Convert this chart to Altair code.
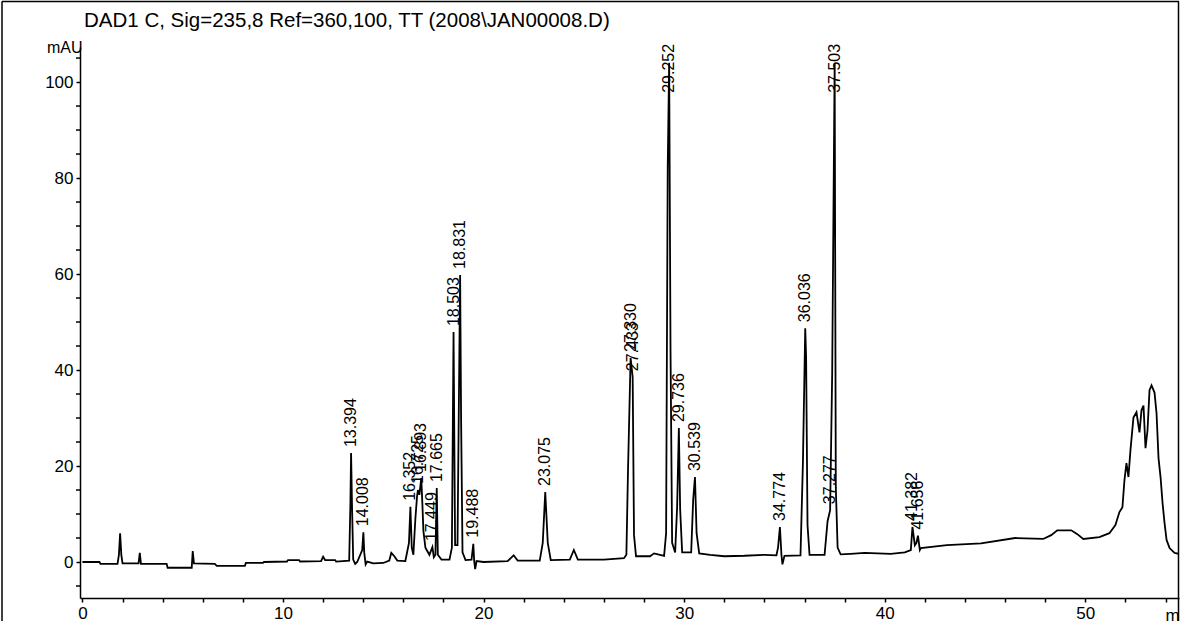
import altair as alt
import pandas as pd
import numpy as np

# ---- chromatogram trace (time in min, signal in mAU) ----
times = [0.0, 0.85, 0.9, 1.75, 1.82, 1.88, 1.94, 2.0, 2.8, 2.86, 2.92, 4.2, 4.25, 5.45, 5.5, 5.56,
         6.6, 6.7, 8.1, 8.15, 9.0, 9.05, 10.2, 10.25, 10.8, 10.85, 11.9, 12.0, 12.1, 12.6, 12.65,
         13.3, 13.36, 13.394, 13.44, 13.5, 13.6, 13.7, 13.95, 14.008, 14.05, 14.12, 14.2, 14.5,
         15.0, 15.3, 15.4, 15.55, 15.7, 16.1, 16.28, 16.352, 16.42, 16.5, 16.6, 16.68, 16.725,
         16.8, 16.893, 16.95, 17.0, 17.1, 17.3, 17.449, 17.52, 17.6, 17.665, 17.72, 17.9, 18.3,
         18.42, 18.503, 18.58, 18.7, 18.831, 18.88, 18.95, 19.1, 19.4, 19.488, 19.53, 19.58, 19.65,
         20.0, 21.2, 21.5, 21.7, 22.8, 22.95, 23.075, 23.2, 23.35, 24.3, 24.5, 24.7, 26.0, 27.0,
         27.12, 27.2, 27.33, 27.433, 27.5, 27.6, 28.3, 28.5, 29.0, 29.1, 29.18, 29.252, 29.32,
         29.4, 29.55, 29.65, 29.736, 29.8, 29.9, 30.35, 30.45, 30.539, 30.62, 30.75, 31.3, 32.0,
         33.0, 34.0, 34.6, 34.68, 34.774, 34.85, 34.9, 35.0, 35.8, 35.92, 36.036, 36.08, 36.15,
         36.25, 37.0, 37.15, 37.277, 37.38, 37.503, 37.56, 37.65, 37.8, 38.3, 39.0, 40.3, 41.0,
         41.3, 41.382, 41.5, 41.58, 41.656, 41.75, 41.8, 43.1, 44.8, 46.5, 47.9, 48.3, 48.6, 49.3,
         49.6, 49.9, 50.7, 51.2, 51.5, 51.7, 51.85, 51.95, 52.05, 52.15, 52.25, 52.4, 52.55, 52.7,
         52.8, 52.9, 53.0, 53.1, 53.2, 53.3, 53.45, 53.55, 53.65, 53.75, 53.85, 53.95, 54.05,
         54.2, 54.45, 54.67]
signal = [0.0, 0.0, -0.4, -0.4, 1.5, 6.0, 1.5, -0.3, -0.3, 1.9, -0.4, -0.4, -1.2, -1.2, 2.3, -0.3,
          -0.4, -0.8, -0.8, -0.2, -0.2, 0.0, 0.1, 0.4, 0.4, 0.1, 0.2, 1.1, 0.4, 0.4, 0.1,
          0.3, 12.0, 22.7, 12.0, 0.5, -0.4, 0.0, 2.5, 6.2, 2.0, -0.5, 0.1, -0.3,
          -0.2, 0.3, 1.9, 1.2, 0.3, 0.2, 4.0, 11.5, 3.0, 1.5, 9.0, 13.5, 15.0,
          14.0, 17.5, 12.0, 6.5, 3.0, 1.5, 3.1, 1.0, 1.5, 15.4, 1.5, 0.5, 0.5,
          3.0, 47.9, 3.5, 3.5, 59.8, 29.5, 2.0, 0.4, 0.5, 3.8, 0.3, -1.5, 0.2,
          0.0, 0.2, 1.4, 0.3, 0.3, 4.0, 14.6, 4.0, 0.4, 0.5, 2.5, 0.5, 0.5, 0.8,
          1.5, 19.0, 42.5, 38.5, 5.6, 1.2, 1.2, 1.8, 1.3, 6.0, 82.0, 104.0, 44.0,
          4.0, 2.0, 11.5, 27.9, 11.0, 2.0, 2.0, 13.0, 17.7, 6.0, 1.8, 1.5, 1.2,
          1.3, 1.5, 1.4, 3.0, 7.3, 1.5, -0.5, 1.3, 1.4, 20.6, 48.7, 42.7, 7.7,
          1.5, 1.5, 8.5, 10.8, 39.4, 104.0, 15.6, 3.0, 1.6, 1.7, 1.9, 1.7, 2.0,
          2.5, 7.3, 3.5, 4.0, 5.5, 2.5, 2.9, 3.5, 3.9, 5.0, 4.8, 5.6, 6.6, 6.6,
          5.8, 4.8, 5.2, 6.0, 7.7, 10.4, 11.4, 17.0, 20.6, 17.7, 23.3, 30.1, 31.2, 27.0,
          31.6, 32.6, 23.7, 27.4, 35.8, 36.8, 35.3, 31.0, 21.6, 17.7, 12.3, 8.1, 4.6,
          2.9, 1.9, 1.7]

# ---- peak annotations ----
peak_labels = ["13.394", "14.008", "16.352", "16.725", "16.893", "17.449", "17.665", "18.503",
               "18.831", "19.488", "23.075", "27.330", "27.433", "29.252", "29.736", "30.539",
               "34.774", "36.036", "37.277", "37.503", "41.382", "41.656"]
peak_heights = [22.7, 6.2, 11.5, 15.0, 17.5, 3.1, 15.4, 47.9, 59.8, 3.8, 14.6, 42.5, 38.5,
                104.0, 27.9, 17.7, 7.3, 48.7, 10.8, 104.0, 7.3, 5.5]

# ---- axis ticks ----
y_major = [0, 20, 40, 60, 80, 100]
y_minor = [-5, 5, 10, 15, 25, 30, 35, 45, 50, 55, 65, 70, 75, 85, 90, 95, 105]
x_ticks = list(range(0, 55, 2))

title_text = "DAD1 C, Sig=235,8 Ref=360,100, TT (2008\\JAN00008.D)"

trace = pd.DataFrame({"t": times, "v": signal})
peaks = pd.DataFrame({"label": peak_labels, "t": [float(s) for s in peak_labels], "v": peak_heights})
peaks["v"] = peaks["v"].clip(upper=96.5)
minor = pd.DataFrame({"v": y_minor})

FONT = "Liberation Sans"
W, H = 1099, 551

xscale = alt.Scale(domain=[-0.12, 54.67], nice=False, zero=False)
yscale = alt.Scale(domain=[-7.5, 107.3], nice=False, zero=False)

xaxis = alt.Axis(
    values=x_ticks,
    labelExpr="datum.value % 10 == 0 ? datum.label : ''",
    title="min", titleX=1085, titleY=22, titleAlign="left", titleBaseline="alphabetic",
    titleFont=FONT, titleFontSize=17, titleFontWeight="normal", titleColor="black",
    labelFont=FONT, labelFontSize=17, labelColor="black", labelPadding=3,
    tickSize=4, tickColor="black", tickWidth=1.5, labelOverlap=False,
    domainColor="black", domainWidth=1.5, grid=False, labelFlush=False,
)
yaxis = alt.Axis(
    values=y_major,
    title="mAU", titleAngle=0, titleX=2, titleY=0, titleAlign="right", titleBaseline="middle",
    titleFont=FONT, titleFontSize=16, titleFontWeight="normal", titleColor="black",
    labelFont=FONT, labelFontSize=17, labelColor="black", labelPadding=3,
    tickSize=4, tickColor="black", tickWidth=1.5, labelOverlap=False,
    domainColor="black", domainWidth=1.5, grid=False, labelFlush=False,
)

X = alt.X("t:Q", scale=xscale, axis=xaxis)
Y = alt.Y("v:Q", scale=yscale, axis=yaxis)

line = alt.Chart(trace).mark_line(color="black", strokeWidth=1.8, interpolate="linear").encode(
    x=X, y=Y,
)

labels = alt.Chart(peaks).mark_text(
    angle=270, align="left", baseline="middle", dx=6, font=FONT, fontSize=16, color="black"
).encode(x=X, y=Y, text="label:N")

minor_ticks = alt.Chart(minor).mark_rule(color="black", strokeWidth=1.5).encode(
    y=Y, x=alt.value(-4), x2=alt.value(0),
)

one = pd.DataFrame({"k": [0]})
frame_top = alt.Chart(one).mark_rule(color="black", strokeWidth=1.5).encode(
    x=alt.value(-78), x2=alt.value(W), y=alt.value(-45.5)
)
frame_left = alt.Chart(one).mark_rule(color="black", strokeWidth=1.5).encode(
    x=alt.value(-78), y=alt.value(-45.5), y2=alt.value(H + 40)
)
frame_right = alt.Chart(one).mark_rule(color="black", strokeWidth=1.5).encode(
    x=alt.value(W - 0.5), y=alt.value(-45.5), y2=alt.value(H + 40)
)
title = alt.Chart(pd.DataFrame({"txt": [title_text]})).mark_text(
    align="left", baseline="alphabetic", font=FONT, fontSize=20.5, color="black"
).encode(x=alt.value(4), y=alt.value(-20), text="txt:N")

chart = alt.layer(line, labels, minor_ticks, frame_top, frame_left, frame_right, title).properties(
    width=W, height=H,
    background="white",
    autosize=alt.AutoSizeParams(type="none"),
    padding={"left": 80, "top": 47, "right": 1, "bottom": 23},
).configure_view(strokeWidth=0, stroke=None)

chart.save("out.html", embed_options={"renderer": "svg", "actions": False})
